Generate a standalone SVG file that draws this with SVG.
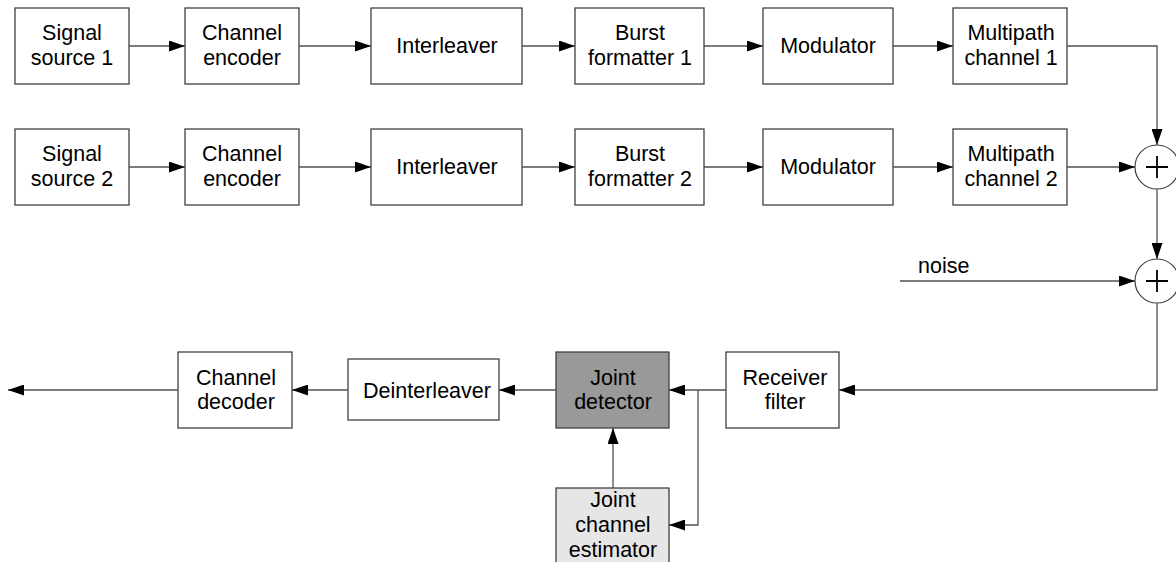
<svg xmlns="http://www.w3.org/2000/svg" width="1176" height="562" viewBox="0 0 1176 562">
  <defs>
    <marker id="arrow" markerWidth="16" markerHeight="11" refX="16" refY="5.5" orient="auto" markerUnits="userSpaceOnUse">
      <path d="M0,0 L16,5.5 L0,11 Z" fill="#000"/>
    </marker>
    <style>
      .box { fill: #fff; stroke: #404040; stroke-width: 1.3; }
      .dark { fill: #999999; }
      .light { fill: #e6e6e6; }
      .lbl { font-family: "Liberation Sans", Arial, sans-serif; font-size: 21.5px; fill: #000; text-anchor: middle; }
      .wire { fill: none; stroke: #505050; stroke-width: 1.3; }
      .sum { fill: #fff; stroke: #404040; stroke-width: 1.2; }
      .plus { stroke: #000; stroke-width: 1.8; }
    </style>
  </defs>

  <rect width="1176" height="562" fill="#fff"/>

  <!-- transmitter chain, user 1 -->
  <g id="src1"><rect class="box" x="15" y="8" width="114" height="76"/><text class="lbl" x="72" y="40">Signal</text><text class="lbl" x="72" y="65">source 1</text></g>
  <g id="enc1"><rect class="box" x="185" y="8" width="114" height="76"/><text class="lbl" x="242" y="40">Channel</text><text class="lbl" x="242" y="65">encoder</text></g>
  <g id="int1"><rect class="box" x="371" y="8" width="151" height="76"/><text class="lbl" x="447" y="53">Interleaver</text></g>
  <g id="burst1"><rect class="box" x="575" y="8" width="129" height="76"/><text class="lbl" x="640" y="40">Burst</text><text class="lbl" x="640" y="65">formatter 1</text></g>
  <g id="mod1"><rect class="box" x="763" y="8" width="130" height="76"/><text class="lbl" x="828" y="53">Modulator</text></g>
  <g id="chan1"><rect class="box" x="953" y="8" width="114" height="76"/><text class="lbl" x="1011" y="40">Multipath</text><text class="lbl" x="1011" y="65">channel 1</text></g>

  <!-- transmitter chain, user 2 -->
  <g id="src2"><rect class="box" x="15" y="129" width="114" height="76"/><text class="lbl" x="72" y="161">Signal</text><text class="lbl" x="72" y="186">source 2</text></g>
  <g id="enc2"><rect class="box" x="185" y="129" width="114" height="76"/><text class="lbl" x="242" y="161">Channel</text><text class="lbl" x="242" y="186">encoder</text></g>
  <g id="int2"><rect class="box" x="371" y="129" width="151" height="76"/><text class="lbl" x="447" y="174">Interleaver</text></g>
  <g id="burst2"><rect class="box" x="575" y="129" width="129" height="76"/><text class="lbl" x="640" y="161">Burst</text><text class="lbl" x="640" y="186">formatter 2</text></g>
  <g id="mod2"><rect class="box" x="763" y="129" width="130" height="76"/><text class="lbl" x="828" y="174">Modulator</text></g>
  <g id="chan2"><rect class="box" x="953" y="129" width="114" height="76"/><text class="lbl" x="1011" y="161">Multipath</text><text class="lbl" x="1011" y="186">channel 2</text></g>

  <!-- summing junctions -->
  <g id="sum1"><circle class="sum" cx="1157" cy="167" r="22"/><path class="plus" d="M1146,167 H1168 M1157,156 V178"/></g>
  <g id="sum2"><circle class="sum" cx="1157" cy="281" r="22"/><path class="plus" d="M1146,281 H1168 M1157,270 V292"/></g>
  <g id="noise"><text class="lbl" x="918" y="273" style="text-anchor:start">noise</text></g>

  <!-- receiver -->
  <g id="rxfilter"><rect class="box" x="726" y="352" width="113" height="76"/><text class="lbl" x="785" y="385">Receiver</text><text class="lbl" x="785" y="409">filter</text></g>
  <g id="detector"><rect class="box dark" x="556" y="352" width="113" height="76"/><text class="lbl" x="613" y="385">Joint</text><text class="lbl" x="613" y="409">detector</text></g>
  <g id="estimator"><rect class="box light" x="556" y="488" width="113" height="90"/><text class="lbl" x="613" y="507">Joint</text><text class="lbl" x="613" y="532">channel</text><text class="lbl" x="613" y="557">estimator</text></g>
  <g id="deint"><rect class="box" x="348" y="359" width="151" height="61"/><text class="lbl" x="427" y="398">Deinterleaver</text></g>
  <g id="dec"><rect class="box" x="178" y="352" width="114" height="76"/><text class="lbl" x="236" y="385">Channel</text><text class="lbl" x="236" y="409">decoder</text></g>

  <g id="connectors">
    <path class="wire" d="M129,46 H185" marker-end="url(#arrow)"/>
    <path class="wire" d="M299,46 H371" marker-end="url(#arrow)"/>
    <path class="wire" d="M522,46 H575" marker-end="url(#arrow)"/>
    <path class="wire" d="M704,46 H763" marker-end="url(#arrow)"/>
    <path class="wire" d="M893,46 H953" marker-end="url(#arrow)"/>
    <path class="wire" d="M1067,46 H1157 V145" marker-end="url(#arrow)"/>

    <path class="wire" d="M129,167 H185" marker-end="url(#arrow)"/>
    <path class="wire" d="M299,167 H371" marker-end="url(#arrow)"/>
    <path class="wire" d="M522,167 H575" marker-end="url(#arrow)"/>
    <path class="wire" d="M704,167 H763" marker-end="url(#arrow)"/>
    <path class="wire" d="M893,167 H953" marker-end="url(#arrow)"/>
    <path class="wire" d="M1067,167 H1135" marker-end="url(#arrow)"/>

    <path class="wire" d="M1157,189 V259" marker-end="url(#arrow)"/>
    <path class="wire" d="M900,281 H1135" marker-end="url(#arrow)"/>
    <path class="wire" d="M1157,303 V390 H839" marker-end="url(#arrow)"/>

    <path class="wire" d="M726,390 H669" marker-end="url(#arrow)"/>
    <path class="wire" d="M698,390 V525 H669" marker-end="url(#arrow)"/>
    <path class="wire" d="M613,488 V428" marker-end="url(#arrow)"/>
    <path class="wire" d="M556,390 H499" marker-end="url(#arrow)"/>
    <path class="wire" d="M348,390 H292" marker-end="url(#arrow)"/>
    <path class="wire" d="M178,390 H8" marker-end="url(#arrow)"/>
  </g>
</svg>
